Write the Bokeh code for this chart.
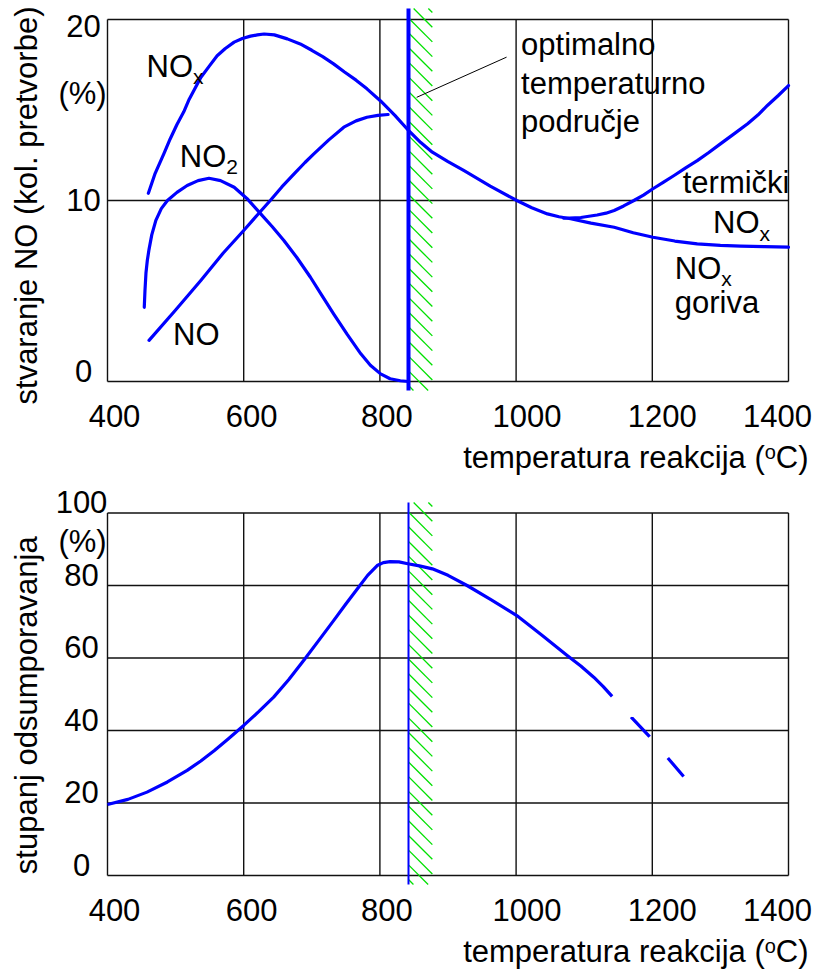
import math
from bokeh.plotting import figure
from bokeh.layouts import column
from bokeh.models import Range1d
from bokeh.core.properties import value
from bokeh.embed import file_html
from bokeh.resources import INLINE

# ---------------- data ----------------
temp_ticks = [400, 600, 800, 1000, 1200, 1400]
temp_tick_labels = ["400", "600", "800", "1000", "1200", "1400"]

no_ticks = [0, 10, 20]
no_tick_labels = ["0", "10", "20"]

desulf_ticks = [0, 20, 40, 60, 80, 100]
desulf_tick_labels = ["0", "20", "40", "60", "80", "100"]

# optimal temperature zone (°C)
zone_start = 842
zone_end = 877

# NOx total (continues as fuel NOx at high temperature)
nox_t = [460, 470, 483, 492, 502, 512, 520, 537, 550, 561, 573, 586, 598, 610, 620, 630,
         645, 664, 683, 700, 716, 732, 748, 765, 781, 801, 822, 842, 860, 877, 900, 923,
         962, 1001, 1023, 1046, 1063, 1080, 1110, 1144, 1172, 1201, 1233, 1266, 1300,
         1330, 1365, 1400]
nox_v = [10.4, 11.5, 12.6, 13.4, 14.2, 14.9, 15.6, 16.8, 17.45, 18.0, 18.4, 18.75, 18.95,
         19.08, 19.15, 19.2, 19.15, 18.93, 18.65, 18.3, 17.95, 17.55, 17.1, 16.65, 16.17,
         15.5, 14.7, 13.87, 13.2, 12.67, 12.15, 11.66, 10.79, 10.0, 9.6, 9.26, 9.1, 8.99,
         8.75, 8.52, 8.22, 7.97, 7.76, 7.6, 7.52, 7.48, 7.45, 7.42]

# thermal NOx branch
thermal_t = [1070, 1095, 1119, 1132, 1144, 1158, 1173, 1187, 1201, 1216, 1232, 1249, 1266,
             1283, 1300, 1320, 1340, 1355, 1369, 1385, 1400]
thermal_v = [9.02, 9.06, 9.2, 9.3, 9.45, 9.7, 10.0, 10.3, 10.65, 11.0, 11.38, 11.8, 12.2,
             12.65, 13.13, 13.68, 14.24, 14.72, 15.25, 15.8, 16.35]

# NO2
no2_t = [454, 455, 456.5, 458.5, 461, 465, 471, 479, 488, 502, 517, 533, 549, 566, 586, 605,
         625, 642, 659, 678, 698, 715, 732, 752, 772, 786, 801, 815, 830, 842]
no2_v = [4.1, 5.0, 6.0, 6.7, 7.3, 8.1, 8.9, 9.55, 10.0, 10.45, 10.83, 11.1, 11.23, 11.1,
         10.73, 10.1, 9.26, 8.55, 7.79, 6.85, 5.76, 4.75, 3.74, 2.6, 1.53, 0.9, 0.42, 0.15,
         0.04, 0.0]

# NO
no_t = [461, 500, 537, 570, 600, 620, 639, 656, 674, 690, 703, 725, 747, 765, 781, 797, 812]
no_v = [2.27, 3.95, 5.58, 7.1, 8.34, 9.2, 10.0, 10.75, 11.47, 12.1, 12.58, 13.35, 14.05,
        14.4, 14.6, 14.7, 14.75]

# desulfurisation degree (%), solid part and uncertain (dashed) part
ds_t = [400, 430, 458, 488, 517, 537, 557, 578, 600, 622, 644, 666, 688, 710, 732, 750, 767,
        782, 796, 805, 815, 828, 841, 858, 877, 900, 928, 963, 1001, 1038, 1075, 1095, 1114,
        1128, 1141]
ds_v = [19.6, 21.0, 23.0, 25.8, 29.0, 31.6, 34.5, 37.8, 41.4, 45.2, 49.2, 54.0, 59.3, 64.8,
        70.3, 74.9, 79.1, 82.8, 85.5, 86.3, 86.6, 86.5, 86.0, 85.4, 84.6, 82.8, 80.0, 76.1,
        71.7, 66.3, 60.7, 57.8, 54.7, 52.1, 49.4]
ds_dash_t = [1141, 1169, 1196, 1222, 1246]
ds_dash_v = [49.4, 43.7, 38.3, 32.6, 27.3]

# ---------------- style ----------------
FONT = value("Liberation Sans")
FS = 31
FS_SMALL = 21
MID = 0.35          # distance from baseline to em-box middle, in em
BLUE = "#0000ff"
GRID = "#111111"
HATCH = "#00e000"
HATCH_STEP = 14.7   # px between hatch strokes
CURVE_W = 3.2
W = 813
H1, H2 = 485, 487
BOX1 = (107, 19, 788, 381)      # left, top, right, bottom in canvas px
BOX2 = (107, 27.5, 788, 390)
xtick_dx = [7, 8, 7, 11, 10, -11]
top_ytick_dy = [0, 10, 17]


def make_fig(H, box, ylim):
    bl, bt, br, bb = box
    x0, x1 = temp_ticks[0], temp_ticks[-1]
    y0, y1 = ylim
    sx = (br - bl) / (x1 - x0)
    sy = (bb - bt) / (y1 - y0)
    xr = Range1d(x0 - bl / sx, x0 + (W - bl) / sx)
    yr = Range1d(y1 - (H - bt) / sy, y1 + bt / sy)
    p = figure(width=W, height=H, x_range=xr, y_range=yr, min_border=0,
               toolbar_location=None, x_axis_type=None, y_axis_type=None,
               output_backend="svg", outline_line_color=None, title=None)
    p.background_fill_color = "white"
    p.border_fill_color = "white"
    return p, sx, sy


def txt(p, x, y, s, size=FS, align="left", dx=0, dy=0, rotated=False):
    """dx/dy locate the text baseline (screen px); drawn with a middle baseline."""
    shift = MID * size
    if rotated:
        dx, angle = dx - shift, math.pi / 2
    else:
        dy, angle = dy - shift, 0
    p.text(x=[x], y=[y], text=[s], text_font=FONT, text_font_size=f"{size}px",
           text_align=align, text_baseline="middle", x_offset=dx, y_offset=dy,
           angle=angle, text_color="black")


def frame_and_grid(p, yticks):
    xmin, xmax = temp_ticks[0], temp_ticks[-1]
    ymin, ymax = yticks[0], yticks[-1]
    p.segment(x0=temp_ticks, y0=[ymin] * len(temp_ticks), x1=temp_ticks,
              y1=[ymax] * len(temp_ticks), line_color=GRID, line_width=1.4)
    p.segment(x0=[xmin] * len(yticks), y0=yticks, x1=[xmax] * len(yticks),
              y1=yticks, line_color=GRID, line_width=1.4)


def zone_hatch(p, sx, sy, y_lo, y_hi):
    """45° '\\' strokes across the optimal-temperature band."""
    w = (zone_end - zone_start) * sx
    hgt = (y_hi - y_lo) * sy
    x0s, y0s, x1s, y1s = [], [], [], []
    c = -w + 4
    while c < hgt:
        u0, u1 = max(0.0, -c), min(w, hgt - c)
        if u1 > u0:
            x0s.append(zone_start + u0 / sx)
            y0s.append(y_hi - (c + u0) / sy)
            x1s.append(zone_start + u1 / sx)
            y1s.append(y_hi - (c + u1) / sy)
        c += HATCH_STEP
    p.segment(x0=x0s, y0=y0s, x1=x1s, y1=y1s, line_color=HATCH, line_width=1.3)


def zone_edge(p, y_lo, y_hi, lw):
    p.segment(x0=[zone_start], y0=[y_lo], x1=[zone_start], y1=[y_hi],
              line_color=BLUE, line_width=lw)


def xticklabels(p, ybase):
    for t, lab, dx in zip(temp_ticks, temp_tick_labels, xtick_dx):
        txt(p, t, ybase, lab, align="center", dx=dx, dy=45)


def xtitle(p, ybase, dy):
    x_end = temp_ticks[-1]
    txt(p, x_end, ybase, "C)", align="right", dx=20, dy=dy)
    txt(p, x_end, ybase, "o", size=20, align="right", dx=20 - 32.7, dy=dy - 10)
    txt(p, x_end, ybase, "temperatura reakcija (", align="right", dx=20 - 32.7 - 11.1, dy=dy)


def chem(p, x, y, main, sub):
    txt(p, x, y, main)
    txt(p, x, y, sub, size=FS_SMALL, dx=46.5, dy=7)


# ---------------- top chart ----------------
p1, sx1, sy1 = make_fig(H1, BOX1, (no_ticks[0], no_ticks[-1]))
frame_and_grid(p1, no_ticks)
z1_lo, z1_hi = no_ticks[0] - 9 / sy1, no_ticks[-1] + 11 / sy1
zone_hatch(p1, sx1, sy1, z1_lo, z1_hi)

for xs, ys in ((nox_t, nox_v), (thermal_t, thermal_v), (no2_t, no2_v), (no_t, no_v)):
    p1.line(xs, ys, line_color=BLUE, line_width=CURVE_W, line_join="round", line_cap="round")

zone_edge(p1, z1_lo, z1_hi, 4)

# pointer from annotation to zone
p1.segment(x0=[986], y0=[17.92], x1=[854], y1=[15.7], line_color="black", line_width=1)

# tick labels
for t, lab, dy in zip(no_ticks, no_tick_labels, top_ytick_dy):
    txt(p1, temp_ticks[0], t, lab, align="center", dx=-24, dy=dy)
txt(p1, temp_ticks[0], no_ticks[-1], "(%)", align="center", dx=-25, dy=85)
xticklabels(p1, no_ticks[0])
xtitle(p1, no_ticks[0], 87)
txt(p1, temp_ticks[0], (no_ticks[0] + no_ticks[-1]) / 2, "stvaranje NO (kol. pretvorbe)",
    align="center", dx=-70, dy=5, rotated=True)

# curve labels
chem(p1, 457.3, 16.81, "NO", "x")
chem(p1, 506.1, 11.84, "NO", "2")
txt(p1, 496.3, 1.99, "NO")
txt(p1, 1007.3, 18.01, "optimalno")
txt(p1, 1007.3, 15.88, "temperaturno")
txt(p1, 1007.3, 13.76, "područje")
txt(p1, temp_ticks[-1], 10.37, "termički", align="right", dx=1)
chem(p1, 1289.3, 8.16, "NO", "x")
chem(p1, 1233.0, 5.67, "NO", "x")
txt(p1, 1233.0, 3.74, "goriva")

# ---------------- bottom chart ----------------
p2, sx2, sy2 = make_fig(H2, BOX2, (desulf_ticks[0], desulf_ticks[-1]))
frame_and_grid(p2, desulf_ticks)
z2_lo, z2_hi = desulf_ticks[0] - 9 / sy2, desulf_ticks[-1] + 10.5 / sy2
zone_hatch(p2, sx2, sy2, z2_lo, z2_hi)

p2.line(ds_t, ds_v, line_color=BLUE, line_width=CURVE_W, line_join="round")
p2.line(ds_dash_t, ds_dash_v, line_color=BLUE, line_width=CURVE_W, line_dash="27 28",
        line_dash_offset=27)
zone_edge(p2, z2_lo, z2_hi, 2)

for t, lab in zip(desulf_ticks, desulf_tick_labels):
    txt(p2, temp_ticks[0], t, lab, align="center", dx=-26, dy=0)
txt(p2, temp_ticks[0], desulf_ticks[-1], "(%)", align="center", dx=-25, dy=39.5)
xticklabels(p2, desulf_ticks[0])
xtitle(p2, desulf_ticks[0], 87)
txt(p2, temp_ticks[0], (desulf_ticks[0] + desulf_ticks[-1]) / 2, "stupanj odsumporavanja",
    align="center", dx=-70, dy=11, rotated=True)

layout = column(p1, p2, spacing=0)
open("out.html", "w").write(file_html(layout, INLINE))
